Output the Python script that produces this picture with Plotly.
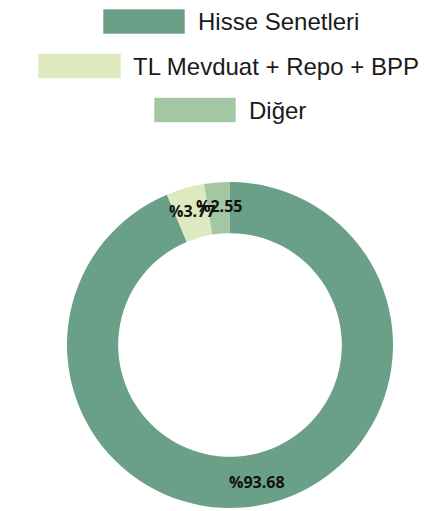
import math
import plotly.graph_objects as go

# ---- data ----
categories = ["Hisse Senetleri", "TL Mevduat + Repo + BPP", "Diğer"]
values = [93.68, 3.77, 2.55]
colors = ["#6a9f88", "#ddeac0", "#a3c7a2"]

W, H = 446, 511
OFF = 8  # page body margin offset


def px_x(x):
    return (x - OFF) / W


def px_y(y):
    return 1 - (y - OFF) / H


# pie geometry (pixels in final picture)
cx, cy, R = 230, 345, 163
HOLE = 0.686

fig = go.Figure()
fig.add_trace(go.Pie(
    labels=categories,
    values=values,
    marker=dict(colors=colors, line=dict(width=0)),
    hole=HOLE,
    sort=False,
    direction="clockwise",
    rotation=0,
    textinfo="none",
    hoverinfo="label+value",
    showlegend=False,
    domain=dict(x=[px_x(cx - R), px_x(cx + R)], y=[px_y(cy + R), px_y(cy - R)]),
))

annotations = []
shapes = []

# ---- data labels placed at the middle of each ring segment ----
total = sum(values)
r_lab = R * (1 + HOLE) / 2 + 2
cum = 0.0
for v in values:
    mid = (cum + v / 2) / total
    cum += v
    theta = 2 * math.pi * mid
    lx = cx + r_lab * math.sin(theta)
    ly = cy - r_lab * math.cos(theta)
    annotations.append(dict(
        text="%" + f"{v:.2f}", xref="paper", yref="paper",
        x=px_x(lx), y=px_y(ly), xanchor="center", yanchor="middle",
        showarrow=False,
        font=dict(family="Open Sans", size=16, color="#111111", weight="bold"),
    ))

# ---- legend (centered rows, wide swatches) ----
legend_rows = [
    # (box_x0, box_x1, y_center, text_left)
    (103, 185, 21.5, 196),
    (38, 121, 66, 131),
    (154, 236, 110, 247),
]
for cat, col, (bx0, bx1, yc, tx) in zip(categories, colors, legend_rows):
    shapes.append(dict(
        type="rect", xref="paper", yref="paper",
        x0=px_x(bx0), x1=px_x(bx1), y0=px_y(yc + 12.5), y1=px_y(yc - 12.5),
        fillcolor=col, line=dict(width=1, color="rgba(255,255,255,0.6)"),
    ))
    annotations.append(dict(
        text=cat, xref="paper", yref="paper",
        x=px_x(tx), y=px_y(yc), xanchor="left", yanchor="middle",
        showarrow=False,
        font=dict(family="Liberation Sans", size=24, color="#1a1a1a"),
    ))

fig.update_layout(
    width=W, height=H,
    margin=dict(l=0, r=0, t=0, b=0),
    paper_bgcolor="white",
    plot_bgcolor="white",
    shapes=shapes,
    annotations=annotations,
)

fig.write_html("out.html")
